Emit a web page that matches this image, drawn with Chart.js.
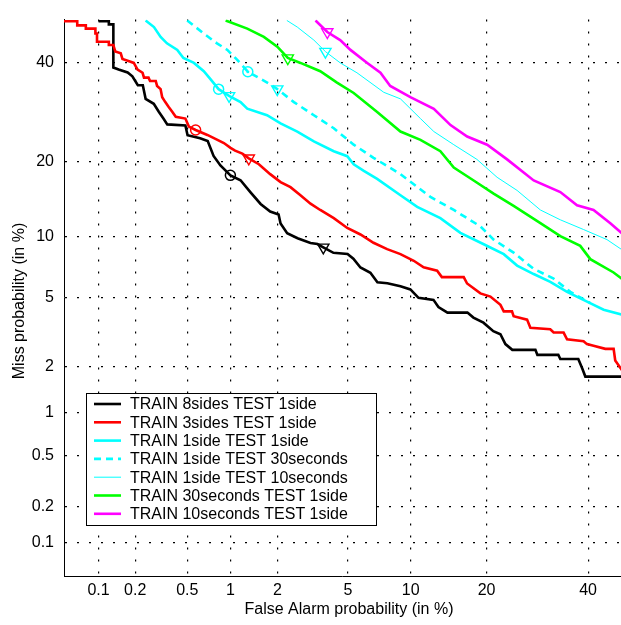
<!DOCTYPE html>
<html>
<head>
<meta charset="utf-8">
<script src="https://cdn.jsdelivr.net/npm/chart.js@4.4.1/dist/chart.umd.min.js"></script>
<style>
  body { margin: 0; background: #fff; }
  canvas { display: block; }
</style>
</head>
<body>
<canvas id="detChart" width="621" height="625"></canvas>
<script>
// DET curves, values in % (false alarm, miss)
const xTicks = [0.1, 0.2, 0.5, 1, 2, 5, 10, 20, 40];
const yTicks = [0.1, 0.2, 0.5, 1, 2, 5, 10, 20, 40];

const legendLabels = [
  'TRAIN 8sides TEST 1side',
  'TRAIN 3sides TEST 1side',
  'TRAIN 1side TEST 1side',
  'TRAIN 1side TEST 30seconds',
  'TRAIN 1side TEST 10seconds',
  'TRAIN 30seconds TEST 1side',
  'TRAIN 10seconds TEST 1side'
];

const blackFa = [0.100,0.122,0.122,0.133,0.133,0.147,0.174,0.190,0.210,0.230,0.242,0.280,0.306,0.332,0.355,0.484,0.502,0.618,0.699,0.768,0.856,1.002,1.168,1.353,1.573,1.806,2.033,2.09,2.29,2.637,3.13,3.425,3.69,4.19,4.975,5.33,5.79,6.49,7.02,7.83,9.0,9.97,10.82,12.52,13.12,14.27,17.04,17.93,19.49,21.11,22.32,23.19,24.43,28.82,29.21,33.51,33.93,37.82,38.7,39.38,48];
const blackMiss = [49.6,49.6,48.87,48.87,38.84,38.39,37.73,36.86,34.9,34.9,31.96,30.92,29.3,27.92,26.77,26.58,24.71,24.15,23.62,21.01,19.41,17.85,17.11,15.39,13.78,12.81,12.45,11.39,10.33,9.80,9.32,9.22,8.9,8.39,8.29,7.86,7.13,6.72,6.02,5.95,5.74,5.53,4.99,4.87,4.457,4.156,4.156,3.90,3.653,3.27,3.14,2.748,2.541,2.541,2.368,2.368,2.238,2.238,1.954,1.738,1.738];

const redFa = [0.05,0.0655,0.0655,0.0778,0.0778,0.094,0.094,0.097,0.097,0.122,0.122,0.133,0.138,0.153,0.158,0.179,0.195,0.209,0.229,0.235,0.255,0.262,0.290,0.297,0.316,0.325,0.343,0.364,0.388,0.411,0.484,0.513,0.574,0.695,0.791,0.904,1.002,1.075,1.20,1.322,1.534,1.806,2.09,2.396,2.741,3.13,3.55,4.207,4.957,5.79,6.72,7.81,9.0,10.32,11.38,12.96,13.55,16.5,16.99,19.01,20.62,22.32,22.9,24.37,24.67,27.19,27.83,31.83,32.52,34.63,35.37,38.99,39.75,41.22,43.9,45.8,46.17,48];
const redMiss = [49.6,49.6,48.63,48.63,47.87,47.87,46.71,46.71,44.79,44.79,44.03,44.03,42.5,42.1,40.79,40.25,39.89,38.39,37.66,36.57,36.57,35.83,35.83,34.74,34.04,32.32,31.28,30.25,29.25,28.26,27.92,26.34,25.70,24.76,24.02,23.27,22.4,21.92,21.4,20.6,19.62,18.04,16.82,16.08,14.95,13.82,13.01,12.01,10.89,10.19,9.345,8.73,8.27,7.69,7.15,6.88,6.39,6.39,5.93,5.27,5.07,4.58,4.22,4.22,3.97,3.80,3.42,3.35,3.21,3.21,2.93,2.86,2.748,2.69,2.575,2.575,2.19,1.86];

const cyanFa = [0.242,0.281,0.316,0.353,0.422,0.468,0.558,0.656,0.733,0.832,0.98,1.168,1.292,1.726,2.09,2.627,3.27,4.207,4.957,5.35,6.02,7.0,9.0,10.68,13.36,16.02,19.54,22.9,25.31,28.48,31.83,35.37,39.76,43.51,48];
const cyanMiss = [49.8,48.24,45.93,44.42,42.89,41.02,39.89,38.01,36.2,34.04,32.6,31.28,29.91,28.58,26.96,25.4,23.57,21.82,20.96,19.62,18.55,17.3,14.95,13.4,12.01,10.36,9.2,8.27,7.29,6.62,6.04,5.37,4.77,4.31,4.03];

const dashFa = [0.499,0.656,0.811,0.954,1.107,1.303,1.806,1.996,2.51,3.27,4.207,5.35,6.72,9.0,12.16,15.11,19.01,21.16,24.67,28.48,32.52,36.08,40.5];
const dashMiss = [49.8,46.71,44.42,42.89,40.63,37.9,35.11,34.04,31.28,28.58,26.02,22.97,20.69,18.04,14.72,13.01,11.07,9.66,8.41,7.02,6.28,5.37,4.68];

const thinFa = [2.28,2.627,3.27,3.79,4.558,5.56,7.53,9.0,11.03,12.56,15.11,18.47,21.75,25.31,29.81,33.93,38.99,44.28,48];
const thinMiss = [49.8,48.24,45.18,42.5,39.89,37.66,33.36,31.96,27.92,25.4,22.97,20.42,17.55,15.62,13.01,11.82,10.72,9.66,8.6];

const greenFa = [0.929,1.292,1.649,1.996,2.31,2.741,3.55,4.377,5.35,7.0,9.0,11.03,13.36,15.11,17.97,21.16,24.67,29.81,33.93,38.25,40.5,45.79,48];
const greenMiss = [49.8,47.87,45.93,43.65,41.02,39.89,38.01,35.48,33.21,29.25,25.4,23.85,21.82,19.08,17.07,15.16,13.52,11.43,10.01,9.04,7.83,6.74,6.2];

const magFa = [3.34,3.88,4.55,5.15,6.26,7.26,8.076,9.97,12.56,14.67,17.0,20.09,23.49,28.48,33.93,37.54,41.22,45.04,48];
const magMiss = [49.8,47.08,45.18,42.89,39.89,37.66,34.74,32.32,29.91,26.64,24.46,22.97,20.42,17.07,15.39,13.61,13.01,11.42,10.2];

// operating points: circles (min DCF) and down triangles (actual)
const circleFa = [1.0, 0.574, 0.832, 1.303];
const circleMiss = [17.85, 25.7, 34.04, 37.9];
const triFa = [3.69, 1.322, 0.98, 1.996, 3.79, 2.31, 3.88];
const triMiss = [8.9, 20.6, 32.6, 34.04, 42.5, 41.0, 47.08];

const colors = ['#000000', '#ff0000', '#00ffff', '#00ffff', '#00ffff', '#00ff00', '#ff00ff'];

// inverse normal CDF (Acklam)
function probit(p) {
  const a = [-3.969683028665376e+01, 2.209460984245205e+02, -2.759285104469687e+02, 1.383577518672690e+02, -3.066479806614716e+01, 2.506628277459239e+00];
  const b = [-5.447609879822406e+01, 1.615858368580409e+02, -1.556989798598866e+02, 6.680131188771972e+01, -1.328068155288572e+01];
  const c = [-7.784894002430293e-03, -3.223964580411365e-01, -2.400758277161838e+00, -2.549732539343734e+00, 4.374664141464968e+00, 2.938163982698783e+00];
  const d = [7.784695709041462e-03, 3.224671290700398e-01, 2.445134137142996e+00, 3.754408661907416e+00];
  const pl = 0.02425;
  if (p < pl) {
    const q = Math.sqrt(-2 * Math.log(p));
    return (((((c[0]*q+c[1])*q+c[2])*q+c[3])*q+c[4])*q+c[5]) / ((((d[0]*q+d[1])*q+d[2])*q+d[3])*q+1);
  }
  if (p > 1 - pl) {
    const q = Math.sqrt(-2 * Math.log(1 - p));
    return -(((((c[0]*q+c[1])*q+c[2])*q+c[3])*q+c[4])*q+c[5]) / ((((d[0]*q+d[1])*q+d[2])*q+d[3])*q+1);
  }
  const q = p - 0.5, r = q * q;
  return (((((a[0]*r+a[1])*r+a[2])*r+a[3])*r+a[4])*r+a[5])*q / (((((b[0]*r+b[1])*r+b[2])*r+b[3])*r+b[4])*r+1);
}

function normCdf(z) {
  const t = 1 / (1 + 0.2316419 * Math.abs(z));
  const y = 0.3989423 * Math.exp(-z * z / 2) * t * (0.3193815 + t * (-0.3565638 + t * (1.781478 + t * (-1.821256 + t * 1.330274))));
  return z > 0 ? 1 - y : y;
}

// normal deviate scale, values given in %
class ProbitScale extends Chart.Scale {
  static id = 'probit';
  static defaults = {};
  determineDataLimits() {
    this.min = this.options.min;
    this.max = this.options.max;
  }
  buildTicks() {
    const vals = this.axis === 'x' ? xTicks : yTicks;
    return vals.map(v => ({ value: v }));
  }
  configure() {
    super.configure();
    this._start = probit(this.min / 100);
    this._range = probit(this.max / 100) - this._start;
  }
  getLabelForValue(v) { return String(v); }
  getPixelForValue(v) {
    if (v === null || isNaN(v)) return NaN;
    return this.getPixelForDecimal((probit(v / 100) - this._start) / this._range);
  }
  getValueForPixel(px) {
    return 100 * normCdf(this._start + this.getDecimalForPixel(px) * this._range);
  }
}
Chart.register(ProbitScale);

const pts = (xs, ys) => xs.map((x, i) => ({ x: x, y: ys[i] }));

const curves = [
  { data: pts(blackFa, blackMiss), borderColor: colors[0], borderWidth: 2.6 },
  { data: pts(redFa, redMiss), borderColor: colors[1], borderWidth: 2.6 },
  { data: pts(cyanFa, cyanMiss), borderColor: colors[2], borderWidth: 2.6 },
  { data: pts(dashFa, dashMiss), borderColor: colors[3], borderWidth: 2.6, borderDash: [7, 5] },
  { data: pts(thinFa, thinMiss), borderColor: colors[4], borderWidth: 1 },
  { data: pts(greenFa, greenMiss), borderColor: colors[5], borderWidth: 2.6 },
  { data: pts(magFa, magMiss), borderColor: colors[6], borderWidth: 2.6 }
].map((d, i) => Object.assign(d, {
  label: legendLabels[i], showLine: true, pointRadius: 0, fill: false, tension: 0, order: 10 - i
}));

const circleColors = [colors[0], colors[1], colors[2], colors[3]];
const triColors = [colors[0], colors[1], colors[2], colors[3], colors[4], colors[5], colors[6]];

const markerSets = [
  {
    label: 'minDCF', data: pts(circleFa, circleMiss), showLine: false,
    pointStyle: 'circle', pointRadius: 5, pointBorderWidth: 1.5,
    pointBorderColor: circleColors, pointBackgroundColor: 'rgba(0,0,0,0)', order: 0
  },
  {
    label: 'dot', data: pts(circleFa.slice(3), circleMiss.slice(3)), showLine: false,
    pointStyle: 'circle', pointRadius: 1.5, pointBorderWidth: 0,
    pointBackgroundColor: colors[3], order: 0
  },
  {
    label: 'actDCF', data: pts(triFa, triMiss), showLine: false,
    pointStyle: 'triangle', rotation: 180, pointRadius: 6.5, pointBorderWidth: 1.4,
    pointBorderColor: triColors, pointBackgroundColor: 'rgba(0,0,0,0)', order: 0
  }
];

const FONT = 'Liberation Sans, Arial, Helvetica, sans-serif';

const extras = {
  id: 'detExtras',
  afterDraw(chart) {
    const ctx = chart.ctx;
    ctx.save();
    // legend box
    const bx = 86, by = 393, bw = 290, bh = 132;
    ctx.fillStyle = '#fff';
    ctx.fillRect(bx, by, bw, bh);
    ctx.strokeStyle = '#000';
    ctx.lineWidth = 1;
    ctx.setLineDash([]);
    ctx.strokeRect(bx + 0.5, by + 0.5, bw, bh);
    ctx.font = '16px ' + FONT;
    ctx.textBaseline = 'middle';
    ctx.textAlign = 'left';
    for (let i = 0; i < curves.length; i++) {
      const ds = chart.data.datasets[i];
      const ry = 404 + i * 18.3;
      ctx.strokeStyle = ds.borderColor;
      ctx.lineWidth = ds.borderWidth;
      ctx.setLineDash(ds.borderDash || []);
      ctx.beginPath();
      ctx.moveTo(94, ry);
      ctx.lineTo(121, ry);
      ctx.stroke();
      ctx.setLineDash([]);
      ctx.fillStyle = '#000';
      ctx.fillText(ds.label, 130, ry + 1);
    }
    // axis titles
    ctx.fillStyle = '#000';
    ctx.textAlign = 'center';
    ctx.fillText('False Alarm probability (in %)', 349, 610);
    ctx.translate(20, 301);
    ctx.rotate(-Math.PI / 2);
    ctx.fillText('Miss probability (in %)', 0, 0);
    ctx.restore();
  }
};

const axisCommon = (min, max) => ({
  type: 'probit',
  min: min,
  max: max,
  grid: { color: '#000', lineWidth: 1.2, drawTicks: false },
  border: { display: true, color: '#000', width: 1, dash: [2, 10] },
  ticks: {
    autoSkip: false, maxRotation: 0, color: '#000',
    font: { family: FONT, size: 16 },
    callback: v => String(v)
  }
});

const xAxis = axisCommon(0.05, 47.5);
xAxis.ticks.padding = 5;
xAxis.afterFit = s => { s.height = 49; };
const yAxis = axisCommon(0.05, 50);
yAxis.ticks.padding = 10;
yAxis.afterFit = s => { s.width = 64; };

new Chart(document.getElementById('detChart').getContext('2d'), {
  type: 'scatter',
  data: { datasets: curves.concat(markerSets) },
  options: {
    responsive: false,
    animation: false,
    layout: { autoPadding: false, padding: { top: 9, right: 0, bottom: 0, left: 0 } },
    plugins: { legend: { display: false }, tooltip: { enabled: false } },
    scales: { x: xAxis, y: yAxis }
  },
  plugins: [extras]
});
</script>
</body>
</html>
